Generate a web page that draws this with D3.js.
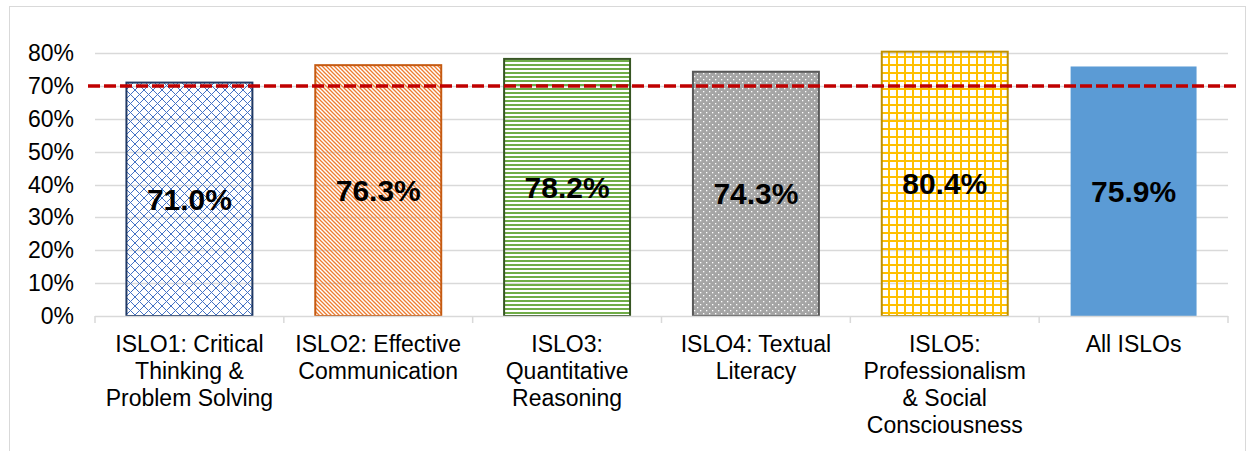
<!DOCTYPE html>
<html lang="en"><head><meta charset="utf-8">
<title>ISLO chart</title>
<script src="https://cdn.jsdelivr.net/npm/d3@7"></script>
<style>
  body { margin: 0; background: #fff; }
  text { font-family: "Liberation Sans", Arial, sans-serif; }
</style>
</head>
<body>
<script>
    // chart values
    var categories = [
        ["ISLO1: Critical", "Thinking &", "Problem Solving"],
        ["ISLO2: Effective", "Communication"],
        ["ISLO3:", "Quantitative", "Reasoning"],
        ["ISLO4: Textual", "Literacy"],
        ["ISLO5:", "Professionalism", "& Social", "Consciousness"],
        ["All ISLOs"]
    ];
    var values = [0.710, 0.763, 0.782, 0.743, 0.804, 0.759];
    var yTicks = [0, 0.1, 0.2, 0.3, 0.4, 0.5, 0.6, 0.7, 0.8];
    var target = 0.70;

    var width = 1254, height = 451;
    var plotLeft = 95, plotRight = 1228, plotBottom = 316, plotTop = 53;

    var svg = d3.select("body").append("svg")
        .attr("width", width)
        .attr("height", height);

    // patterns
    var defs = svg.append("defs");

    var p1 = defs.append("pattern").attr("id", "p1").attr("patternUnits", "userSpaceOnUse")
        .attr("width", 9).attr("height", 9);
    p1.append("path").attr("d", "M0,0 L9,9 M9,0 L0,9").attr("stroke", "#4472C4").attr("stroke-width", 1).attr("fill", "none");

    var p2 = defs.append("pattern").attr("id", "p2").attr("patternUnits", "userSpaceOnUse")
        .attr("width", 4).attr("height", 4);
    p2.append("path").attr("d", "M-1,-1 L5,5 M-1,3 L1,5 M3,-1 L5,1").attr("stroke", "#ED7D31").attr("stroke-width", 1.3).attr("fill", "none");

    var p3 = defs.append("pattern").attr("id", "p3").attr("patternUnits", "userSpaceOnUse")
        .attr("width", 4).attr("height", 4);
    p3.append("rect").attr("x", 0).attr("y", 0).attr("width", 4).attr("height", 2).attr("fill", "#70AD47");

    var p4 = defs.append("pattern").attr("id", "p4").attr("patternUnits", "userSpaceOnUse")
        .attr("width", 6).attr("height", 6);
    p4.append("rect").attr("width", 6).attr("height", 6).attr("fill", "#A5A5A5");
    p4.append("rect").attr("x", 1).attr("y", 1).attr("width", 1.3).attr("height", 1.3).attr("fill", "#fff");
    p4.append("rect").attr("x", 4).attr("y", 4).attr("width", 1.3).attr("height", 1.3).attr("fill", "#fff");

    var p5 = defs.append("pattern").attr("id", "p5").attr("patternUnits", "userSpaceOnUse")
        .attr("width", 8).attr("height", 8);
    p5.append("path").attr("d", "M0,1 H8 M1,0 V8").attr("stroke", "#FFC000").attr("stroke-width", 2).attr("fill", "none");

    var fills = ["url(#p1)", "url(#p2)", "url(#p3)", "url(#p4)", "url(#p5)", "#5B9BD5"];
    var strokes = ["#1F3864", "#C55A11", "#375623", "#595959", "#BF9000", "none"];

    // outer border
    svg.append("rect")
        .attr("x", 9.5).attr("y", 6.5)
        .attr("width", 1236).attr("height", 460)
        .attr("fill", "none")
        .attr("stroke", "#d9d9d9");

    var x = d3.scaleBand().domain(d3.range(categories.length)).range([plotLeft, plotRight])
        .paddingInner(0.333).paddingOuter(0.1665);
    var y = d3.scaleLinear().domain([0, 0.8]).range([plotBottom, plotTop]);

    // gridlines
    svg.append("g").selectAll("line")
        .data(yTicks.slice(1)).enter().append("line")
        .attr("x1", plotLeft).attr("x2", plotRight)
        .attr("y1", function (d) { return Math.round(y(d)) + 0.5; })
        .attr("y2", function (d) { return Math.round(y(d)) + 0.5; })
        .attr("stroke", "#d9d9d9").attr("stroke-width", 1.5);

    // y labels
    svg.append("g").selectAll("text")
        .data(yTicks).enter().append("text")
        .attr("x", 74)
        .attr("y", function (d) { return y(d); })
        .attr("dy", "0.35em")
        .attr("text-anchor", "end")
        .attr("font-size", 23)
        .attr("fill", "#000")
        .text(d3.format(".0%"));

    // bars
    svg.append("g").selectAll("rect")
        .data(values).enter().append("rect")
        .attr("x", function (d, i) { return x(i); })
        .attr("y", function (d) { return y(d); })
        .attr("width", x.bandwidth())
        .attr("height", function (d) { return plotBottom - y(d); })
        .attr("fill", function (d, i) { return fills[i]; })
        .attr("stroke", function (d, i) { return strokes[i]; })
        .attr("stroke-width", 2);

    // x axis
    var step = (plotRight - plotLeft) / categories.length;
    svg.append("line")
        .attr("x1", plotLeft).attr("x2", plotRight)
        .attr("y1", plotBottom + 0.5).attr("y2", plotBottom + 0.5)
        .attr("stroke", "#d9d9d9").attr("stroke-width", 1.5);
    svg.append("g").selectAll("line")
        .data(d3.range(categories.length + 1)).enter().append("line")
        .attr("x1", function (i) { return plotLeft + i * step; })
        .attr("x2", function (i) { return plotLeft + i * step; })
        .attr("y1", plotBottom).attr("y2", plotBottom + 7)
        .attr("stroke", "#d9d9d9").attr("stroke-width", 1.5);

    // target line
    svg.append("line")
        .attr("x1", 88).attr("x2", 1238)
        .attr("y1", y(target)).attr("y2", y(target))
        .attr("stroke", "#C00000")
        .attr("stroke-width", 3.5)
        .attr("stroke-dasharray", "12,4");

    // value labels
    svg.append("g").selectAll("text")
        .data(values).enter().append("text")
        .attr("x", function (d, i) { return x(i) + x.bandwidth() / 2; })
        .attr("y", function (d) { return (y(d) + plotBottom) / 2; })
        .attr("dy", "0.35em")
        .attr("text-anchor", "middle")
        .attr("font-size", 30)
        .attr("font-weight", "bold")
        .attr("fill", "#000")
        .text(d3.format(".1%"));

    // category labels
    var catLabel = svg.append("g").selectAll("text")
        .data(categories).enter().append("text")
        .attr("x", function (d, i) { return x(i) + x.bandwidth() / 2; })
        .attr("y", 352)
        .attr("text-anchor", "middle")
        .attr("font-size", 23)
        .attr("fill", "#000");
    catLabel.selectAll("tspan")
        .data(function (d) { return d; }).enter().append("tspan")
        .attr("x", function () { return d3.select(this.parentNode).attr("x"); })
        .attr("dy", function (d, j) { return j === 0 ? 0 : 27; })
        .text(function (d) { return d; });
</script>
</body></html>
